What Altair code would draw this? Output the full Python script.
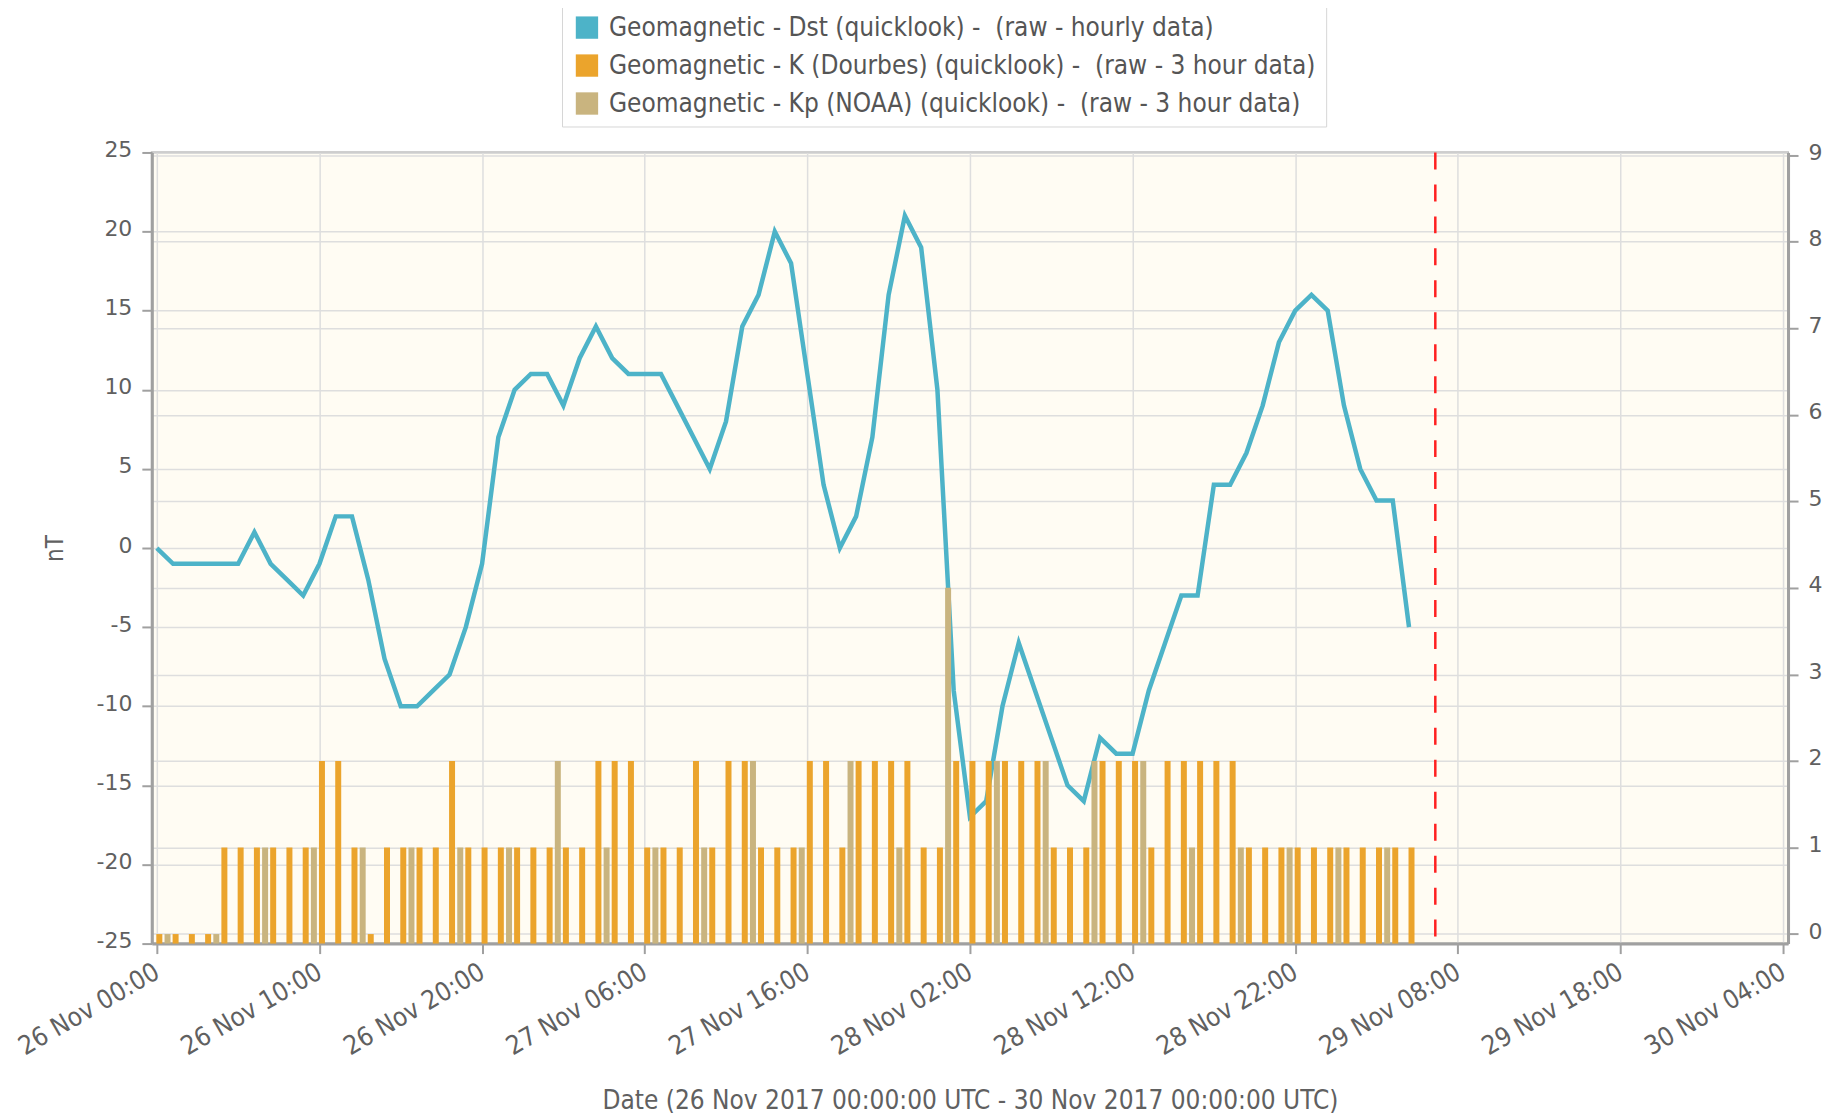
import altair as alt
import pandas as pd

# ---------------- data ----------------
SERIES = [
    "Geomagnetic - Dst (quicklook) - \u00a0(raw - hourly data)",
    "Geomagnetic - K (Dourbes) (quicklook) - \u00a0(raw - 3 hour data)",
    "Geomagnetic - Kp (NOAA) (quicklook) - \u00a0(raw - 3 hour data)",
]
COLORS = ["#4db3c8", "#eba42c", "#c9b47f"]

DST_START = "2017-11-26T00:00"   # hourly
DST = [0, -1, -1, -1, -1, -1, 1, -1, -2, -3,
       -1, 2, 2, -2, -7, -10, -10, -9, -8, -5,
       -1, 7, 10, 11, 11, 9, 12, 14, 12, 11,
       11, 11, 9, 7, 5, 8, 14, 16, 20, 18,
       11, 4, 0, 2, 7, 16, 21, 19, 10, -9,
       -17, -16, -10, -6, -9, -12, -15, -16, -12, -13,
       -13, -9, -6, -3, -3, 4, 4, 6, 9, 13,
       15, 16, 15, 9, 5, 3, 3, -5]

K_START = "2017-11-26T00:00"     # hourly
K = [0, 0, 0, 0, 1, 1, 1, 1, 1, 1,
     2, 2, 1, 0, 1, 1, 1, 1, 2, 1,
     1, 1, 1, 1, 1, 1, 1, 2, 2, 2,
     1, 1, 1, 2, 1, 2, 2, 1, 1, 1,
     2, 2, 1, 2, 2, 2, 2, 1, 1, 2,
     2, 2, 2, 2, 2, 1, 1, 1, 2, 2,
     2, 1, 2, 2, 2, 2, 2, 1, 1, 1,
     1, 1, 1, 1, 1, 1, 1, 1]

KP_START = "2017-11-26T00:00"    # every 3 hours
KP = [0, 0, 1, 1, 1, 1, 1, 1, 2, 1,
      1, 1, 2, 1, 2, 1, 4, 2, 2, 2,
      2, 1, 1, 1, 1, 1]

NOW = ["2017-11-29T06:37"]
X_DOMAIN = ["2017-11-26T00:00", "2017-11-30T04:00"]
X_TICKS = ["2017-11-26T00:00", "2017-11-26T10:00", "2017-11-26T20:00",
           "2017-11-27T06:00", "2017-11-27T16:00", "2017-11-28T02:00",
           "2017-11-28T12:00", "2017-11-28T22:00", "2017-11-29T08:00",
           "2017-11-29T18:00", "2017-11-30T04:00"]
Y_LEFT_DOMAIN = [-25, 25]
Y_LEFT_TICKS = [-25, -20, -15, -10, -5, 0, 5, 10, 15, 20, 25]
Y_RIGHT_DOMAIN = [-0.11, 9.03]
Y_RIGHT_TICKS = [0, 1, 2, 3, 4, 5, 6, 7, 8, 9]
X_TITLE = "Date (26 Nov 2017 00:00:00 UTC - 30 Nov 2017 00:00:00 UTC)"
Y_TITLE = "nT"

# ---------------- helpers ----------------
def dt(s):
    t = pd.Timestamp(s)
    return alt.DateTime(year=t.year, month=t.month, date=t.day,
                        hours=t.hour, minutes=t.minute)


def times(start, n, step):
    return list(pd.date_range(start, periods=n, freq=step).strftime("%Y-%m-%dT%H:%M"))


dst_df = pd.DataFrame({"time": times(DST_START, len(DST), "1h"), "value": DST})
k_df = pd.DataFrame({"time": times(K_START, len(K), "1h"), "value": K, "series": SERIES[1]})
kp_df = pd.DataFrame({"time": times(KP_START, len(KP), "3h"), "value": KP, "series": SERIES[2]})
now_df = pd.DataFrame({"time": NOW})

NARROW = "Liberation Sans Narrow, DejaVu Sans Condensed, Arial Narrow, sans-serif"
WIDE = "DejaVu Sans, Verdana, sans-serif"
GRAY = "#606060"
AXIS_GRAY = "#a0a0a0"
GRID = "#dedede"

W, H = 1638, 792

x_enc = alt.X(
    "time:T",
    scale=alt.Scale(domain=[dt(X_DOMAIN[0]), dt(X_DOMAIN[1])], nice=False),
    axis=alt.Axis(
        values=[dt(t) for t in X_TICKS], format="%d %b %H:%M",
        labelAngle=330, labelAlign="right", labelBaseline="middle",
        labelFont=NARROW, labelFontSize=26, labelColor=GRAY, labelPadding=16,
        labelOverlap=False, labelFlush=False,
        tickSize=10, tickColor=AXIS_GRAY, tickWidth=2,
        domainColor=AXIS_GRAY, domainWidth=3,
        grid=True, gridColor=GRID, gridWidth=1.5,
        title=X_TITLE, titleFont=NARROW, titleFontSize=26, titleColor=GRAY,
        titleFontWeight="normal", titleY=157, titleBaseline="middle",
    ),
)

color_scale = alt.Scale(domain=SERIES, range=COLORS)
legend = alt.Legend(
    title=None, orient="none", legendX=410.6, legendY=-148, direction="vertical",
    symbolType="square", symbolSize=500, symbolStrokeWidth=0, symbolOpacity=1,
    symbolOffset=2,
    labelFont=NARROW, labelFontSize=26, labelColor="#555555", labelLimit=2000,
    labelOffset=9, rowPadding=12, padding=10,
    strokeColor="#d6d6d6", fillColor="#ffffff",
)

line = alt.Chart(dst_df).mark_line(strokeWidth=4.5, color=COLORS[0]).encode(
    x=x_enc,
    y=alt.Y(
        "value:Q",
        scale=alt.Scale(domain=Y_LEFT_DOMAIN, nice=False, zero=False),
        axis=alt.Axis(
            orient="left", values=Y_LEFT_TICKS,
            labelExpr="'' + datum.value",
            labelFont=WIDE, labelFontSize=22, labelColor=GRAY, labelPadding=10,
            labelFlush=False, labelOffset=-3,
            tickSize=10, tickColor=AXIS_GRAY, tickWidth=2,
            domainColor=AXIS_GRAY, domainWidth=3,
            grid=True, gridColor=GRID, gridWidth=1.5,
            title=Y_TITLE, titleFont=NARROW, titleFontSize=24, titleColor=GRAY,
            titleFontWeight="normal", titleAngle=270, titleX=-96,
            titleBaseline="middle",
        ),
    ),
)

y_right = alt.Y(
    "value:Q",
    scale=alt.Scale(domain=Y_RIGHT_DOMAIN, nice=False, zero=False),
    axis=alt.Axis(
        orient="right", values=Y_RIGHT_TICKS,
        labelFont=WIDE, labelFontSize=22, labelColor=GRAY, labelPadding=10,
        labelFlush=False, labelOffset=-3,
        tickSize=10, tickColor=AXIS_GRAY, tickWidth=2,
        domainColor=AXIS_GRAY, domainWidth=3,
        grid=True, gridColor=GRID, gridWidth=1.5, title=None,
    ),
)

k_bars = alt.Chart(k_df).mark_bar(size=6, xOffset=2.5).encode(
    x=x_enc, y=y_right, y2=alt.datum(Y_RIGHT_DOMAIN[0]),
    color=alt.Color("series:N", scale=color_scale, legend=legend),
)
kp_bars = alt.Chart(kp_df).mark_bar(size=6, xOffset=10.7).encode(
    x=x_enc, y=y_right, y2=alt.datum(Y_RIGHT_DOMAIN[0]),
    color=alt.Color("series:N", scale=color_scale, legend=legend),
)
bars = alt.layer(k_bars, kp_bars)

now_rule = alt.Chart(now_df).mark_rule(
    color="#ff2020", strokeWidth=2.5, strokeDash=[17, 15]
).encode(x=x_enc)

chart = (
    alt.layer(line, bars, now_rule)
    .resolve_scale(y="independent")
    .properties(
        width=W, height=H,
        autosize=alt.AutoSizeParams(type="none"),
        padding={"left": 144, "top": 144, "right": 38, "bottom": 180},
        background="#ffffff",
    )
    .configure_view(fill="#fffcf3", stroke=AXIS_GRAY, strokeWidth=2)
)

chart.save("out.html", embed_options={"renderer": "svg", "actions": False})
